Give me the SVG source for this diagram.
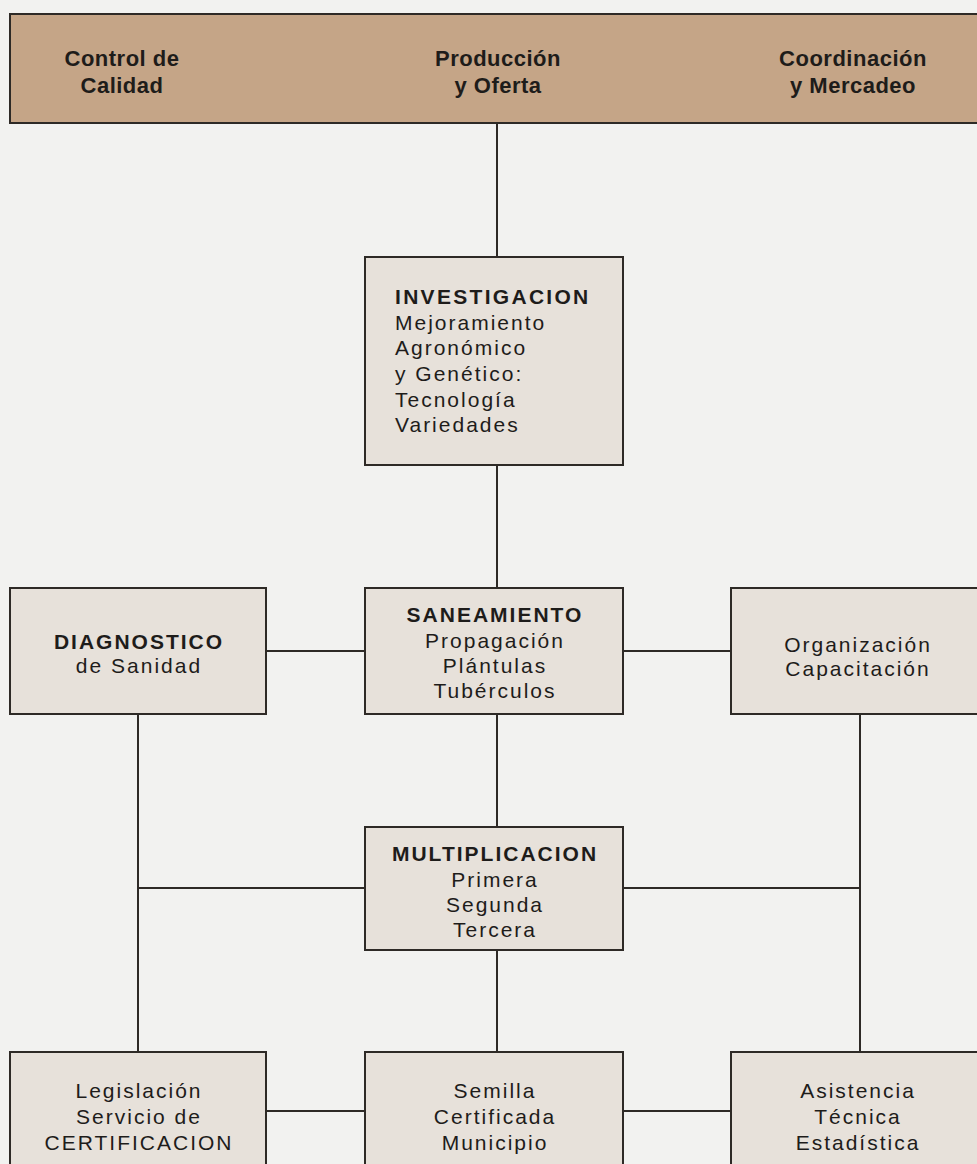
<svg xmlns="http://www.w3.org/2000/svg" width="977" height="1164" viewBox="0 0 977 1164">
<style>
.band{fill:#c5a587;stroke:#2e2a26;stroke-width:2}
.box{fill:#e7e1da;stroke:#2e2a26;stroke-width:2}
.con{stroke:#2e2a26;stroke-width:2;fill:none}
text{font-family:"Liberation Sans",Arial,Helvetica,sans-serif;fill:#1e1c1a}
.h{font-size:22px;font-weight:bold;letter-spacing:0.5px;text-anchor:middle}
.t{font-size:21px;letter-spacing:2px;text-anchor:middle}
.tb{font-size:21px;font-weight:bold;letter-spacing:2px;text-anchor:middle}
.l{font-size:21px;letter-spacing:2px}
.lb{font-size:21px;font-weight:bold;letter-spacing:2.3px}
</style>
<rect width="977" height="1164" fill="#f2f2f0"/>
<g id="connectors">
<line class="con" x1="497" y1="123" x2="497" y2="257"/>
<line class="con" x1="497" y1="465" x2="497" y2="588"/>
<line class="con" x1="266" y1="651" x2="365" y2="651"/>
<line class="con" x1="623" y1="651" x2="731" y2="651"/>
<line class="con" x1="497" y1="714" x2="497" y2="827"/>
<line class="con" x1="138" y1="714" x2="138" y2="1052"/>
<line class="con" x1="860" y1="714" x2="860" y2="1052"/>
<line class="con" x1="138" y1="888" x2="365" y2="888"/>
<line class="con" x1="623" y1="888" x2="860" y2="888"/>
<line class="con" x1="497" y1="950" x2="497" y2="1052"/>
<line class="con" x1="266" y1="1111" x2="365" y2="1111"/>
<line class="con" x1="623" y1="1111" x2="731" y2="1111"/>
</g>
<g id="header">
<rect class="band" x="10" y="14" width="980" height="109"/>
<text class="h" x="122" y="66">Control de</text>
<text class="h" x="122" y="93">Calidad</text>
<text class="h" x="498" y="66">Producción</text>
<text class="h" x="498" y="93">y Oferta</text>
<text class="h" x="853" y="66">Coordinación</text>
<text class="h" x="853" y="93">y Mercadeo</text>
</g>
<g id="investigacion">
<rect class="box" x="365" y="257" width="258" height="208"/>
<text class="lb" x="395" y="304">INVESTIGACION</text>
<text class="l" x="395" y="330">Mejoramiento</text>
<text class="l" x="395" y="355">Agronómico</text>
<text class="l" x="395" y="381">y Genético:</text>
<text class="l" x="395" y="407">Tecnología</text>
<text class="l" x="395" y="432">Variedades</text>
</g>
<g id="diagnostico">
<rect class="box" x="10" y="588" width="256" height="126"/>
<text class="tb" x="139" y="649">DIAGNOSTICO</text>
<text class="t" x="139" y="673">de Sanidad</text>
</g>
<g id="saneamiento">
<rect class="box" x="365" y="588" width="258" height="126"/>
<text class="tb" x="495" y="622">SANEAMIENTO</text>
<text class="t" x="495" y="648">Propagación</text>
<text class="t" x="495" y="673">Plántulas</text>
<text class="t" x="495" y="698">Tubérculos</text>
</g>
<g id="organizacion">
<rect class="box" x="731" y="588" width="258" height="126"/>
<text class="t" x="858" y="652">Organización</text>
<text class="t" x="858" y="676">Capacitación</text>
</g>
<g id="multiplicacion">
<rect class="box" x="365" y="827" width="258" height="123"/>
<text class="tb" x="495" y="861">MULTIPLICACION</text>
<text class="t" x="495" y="887">Primera</text>
<text class="t" x="495" y="912">Segunda</text>
<text class="t" x="495" y="937">Tercera</text>
</g>
<g id="legislacion">
<rect class="box" x="10" y="1052" width="256" height="130"/>
<text class="t" x="139" y="1098">Legislación</text>
<text class="t" x="139" y="1124">Servicio de</text>
<text class="t" x="139" y="1150">CERTIFICACION</text>
</g>
<g id="semilla">
<rect class="box" x="365" y="1052" width="258" height="130"/>
<text class="t" x="495" y="1098">Semilla</text>
<text class="t" x="495" y="1124">Certificada</text>
<text class="t" x="495" y="1150">Municipio</text>
</g>
<g id="asistencia">
<rect class="box" x="731" y="1052" width="258" height="130"/>
<text class="t" x="858" y="1098">Asistencia</text>
<text class="t" x="858" y="1124">Técnica</text>
<text class="t" x="858" y="1150">Estadística</text>
</g>
</svg>
